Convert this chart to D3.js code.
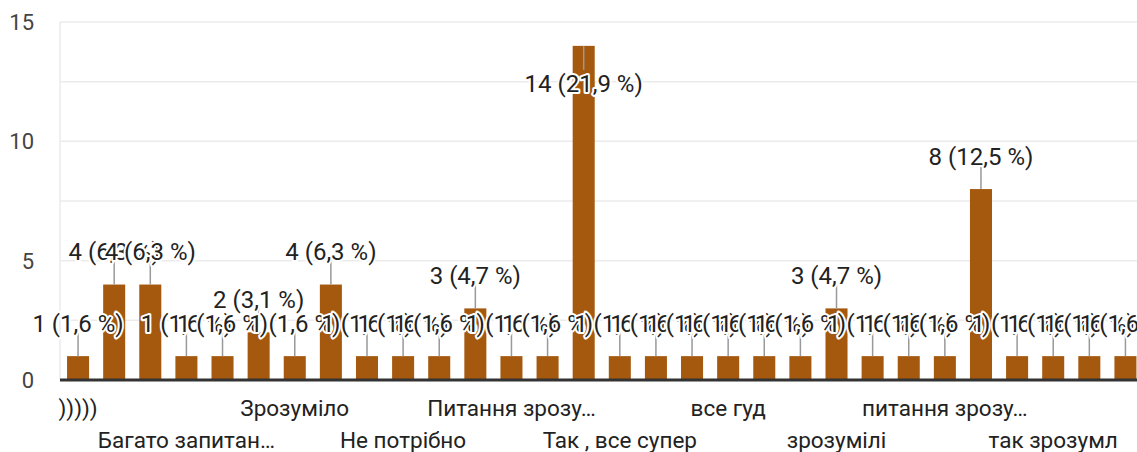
<!DOCTYPE html>
<html lang="uk">
<head>
<meta charset="UTF-8">
<title>Відповіді</title>
<script src="https://d3js.org/d3.v7.min.js"></script>
<style>
  html, body { margin: 0; padding: 0; background: #fff; }
  svg { display: block; font-family: Roboto, Arial, sans-serif; }
  .grid line { stroke: #ebebeb; stroke-width: 1.5px; }
  .ytick { font-size: 22px; fill: #444; }
  .xlabel { font-size: 22.5px; fill: #222; }
  .note { font-size: 24px; fill: #222; stroke: #fff; stroke-width: 4px;
          stroke-linejoin: round; paint-order: stroke; }
  .stem { stroke: #999; stroke-width: 1.5px; }
</style>
</head>
<body>
<svg id="chart" width="1137" height="452"></svg>
<script>
// answer counts, one per distinct answer (sorted as in the form summary)
const counts = [1, 4, 4, 1, 1, 2, 1, 4, 1, 1, 1, 3, 1, 1, 14, 1, 1, 1, 1, 1, 1, 3, 1, 1, 1, 8, 1, 1, 1, 1];
// percentages as printed on the chart
const percents = ["1,6", "6,3", "6,3", "1,6", "1,6", "3,1", "1,6", "6,3", "1,6", "1,6",
                  "1,6", "4,7", "1,6", "1,6", "21,9", "1,6", "1,6", "1,6", "1,6", "1,6",
                  "1,6", "4,7", "1,6", "1,6", "1,6", "12,5", "1,6", "1,6", "1,6", "1,6"];
// visible axis labels (every third answer is labelled)
const axisLabels = [")))))", "Багато запитан…", "Зрозуміло", "Не потрібно", "Питання зрозу…",
                    "Так , все супер", "все гуд", "зрозумілі", "питання зрозу…", "так зрозумл"];
const labelEvery = 3;
const yTicks = [0, 5, 10, 15];

const svg = d3.select("#chart");
const mLeft = 60, mRight = 1143.5, mTop = 22, mBottom = 380;

const x = d3.scaleBand()
    .domain(d3.range(counts.length))
    .range([mLeft, mRight])
    .paddingInner(0.39)
    .paddingOuter(0.195);

const y = d3.scaleLinear().domain([0, 15]).range([mBottom, mTop]);

// gridlines every 2.5
svg.append("g").attr("class", "grid")
  .selectAll("line")
  .data(d3.range(2.5, 15.01, 2.5))
  .join("line")
    .attr("x1", mLeft).attr("x2", 1137)
    .attr("y1", d => y(d)).attr("y2", d => y(d));

svg.append("line")
    .attr("x1", mLeft).attr("x2", mLeft)
    .attr("y1", y(15)).attr("y2", mBottom)
    .attr("stroke", "#ebebeb").attr("stroke-width", 1.5);

// y labels
svg.selectAll(".ytick")
  .data(yTicks)
  .join("text")
    .attr("class", "ytick")
    .attr("x", 34)
    .attr("y", d => y(d))
    .attr("dy", "0.36em")
    .attr("text-anchor", "end")
    .text(d => d);

// bars
svg.append("g")
  .selectAll("rect")
  .data(counts)
  .join("rect")
    .attr("x", (d, i) => x(i))
    .attr("y", d => y(d))
    .attr("width", x.bandwidth())
    .attr("height", d => mBottom - y(d))
    .attr("fill", "#a5590f");

// baseline
svg.append("line")
    .attr("x1", mLeft).attr("x2", 1137)
    .attr("y1", mBottom).attr("y2", mBottom)
    .attr("stroke", "#333").attr("stroke-width", 3);

// annotations: stem + label; if no room above, put it inside the bar
const notes = svg.append("g");
counts.forEach((v, i) => {
  const cx = x(i) + x.bandwidth() / 2;
  const t = y(v);
  const inside = t - 60 < mTop;
  notes.append("line").attr("class", "stem")
      .attr("x1", cx).attr("x2", cx)
      .attr("y1", t).attr("y2", inside ? t + 24 : t - 24);
});
counts.forEach((v, i) => {
  const cx = x(i) + x.bandwidth() / 2;
  const t = y(v);
  const inside = t - 60 < mTop;
  notes.append("text").attr("class", "note")
      .attr("x", cx)
      .attr("y", inside ? t + 37 : t - 33)
      .attr("dy", "0.36em")
      .attr("text-anchor", "middle")
      .text(`${v} (${percents[i]} %)`);
});

// x axis labels, alternating two rows
svg.selectAll(".xlabel")
  .data(axisLabels)
  .join("text")
    .attr("class", "xlabel")
    .attr("x", (d, i) => x(i * labelEvery) + x.bandwidth() / 2)
    .attr("y", (d, i) => i % 2 === 0 ? 408 : 440)
    .attr("dy", "0.36em")
    .attr("text-anchor", "middle")
    .text(d => d);
</script>
</body>
</html>
